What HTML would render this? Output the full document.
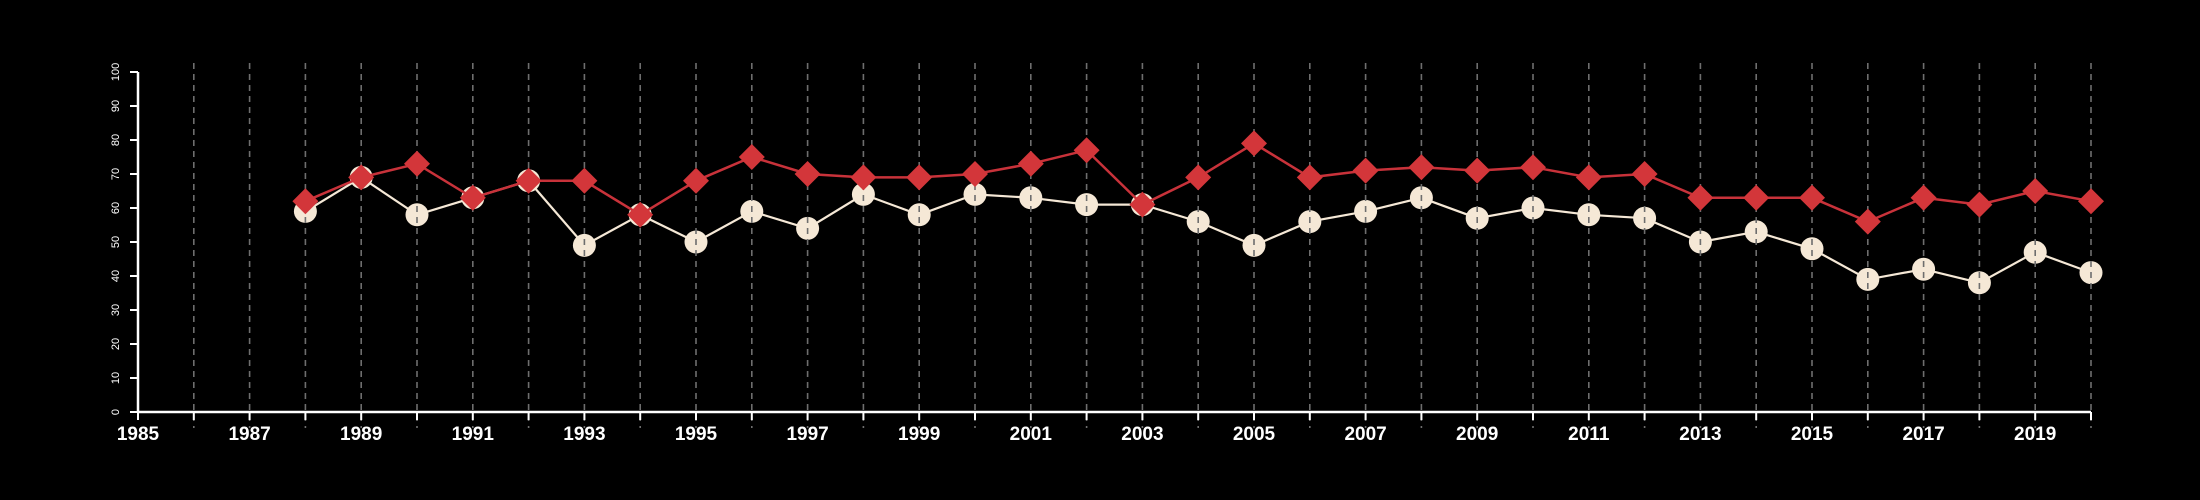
<!DOCTYPE html>
<html><head><meta charset="utf-8"><style>
html,body{margin:0;padding:0;background:#000;width:2200px;height:500px;overflow:hidden}
svg{display:block}
text{font-family:"Liberation Sans",sans-serif;fill:#fff}
</style></head><body>
<svg id="chart" width="2200" height="500" xmlns="http://www.w3.org/2000/svg"></svg>
<script>
const years=[1988,1989,1990,1991,1992,1993,1994,1995,1996,1997,1998,1999,2000,2001,2002,2003,2004,2005,2006,2007,2008,2009,2010,2011,2012,2013,2014,2015,2016,2017,2018,2019,2020];
const redSeries=[62,69,73,63,68,68,58,68,75,70,69,69,70,73,77,61,69,79,69,71,72,71,72,69,70,63,63,63,56,63,61,65,62];
const creamSeries=[59,69,58,63,68,49,58,50,59,54,64,58,64,63,61,61,56,49,56,59,63,57,60,58,57,50,53,48,39,42,38,47,41];
const yTicks=[0,10,20,30,40,50,60,70,80,90,100];
const xLabels=[1985,1987,1989,1991,1993,1995,1997,1999,2001,2003,2005,2007,2009,2011,2013,2015,2017,2019];
const xMin=1985,xMax=2020;

const svg=document.getElementById('chart');
const NS='http://www.w3.org/2000/svg';
const X=v=>138+(v-1985)*55.8;
const Y=v=>412-v*3.4;
function mk(tag,attrs,parent){const e=document.createElementNS(NS,tag);for(const k in attrs)e.setAttribute(k,attrs[k]);(parent||svg).appendChild(e);return e;}

// cream series
const gC=mk('g',{});


const cl=mk('polyline',{points:years.map((y,i)=>X(y)+','+Y(creamSeries[i])).join(' '),fill:'none',stroke:'#f5e8d6','stroke-width':2.2},gC);


years.forEach((y,i)=>{
  const c=mk('circle',{cx:X(y),cy:Y(creamSeries[i]),r:11.5,fill:'#f5e8d6'},gC);
  
  
});

// grid lines & ticks
for(let yr=1986;yr<=2020;yr++){
  const g=mk('line',{x1:X(yr),x2:X(yr),y1:63,y2:428,stroke:'#6e6e6e','stroke-width':1.6,'stroke-dasharray':'6,5'});
  
  
}
for(let yr=1985;yr<=2020;yr++){
  const t=mk('line',{x1:X(yr),x2:X(yr),y1:412,y2:420,stroke:'#fff','stroke-width':2});
  
  
}

// red series
const gR=mk('g',{});


const rl=mk('polyline',{points:years.map((y,i)=>X(y)+','+Y(redSeries[i])).join(' '),fill:'none',stroke:'#c8323a','stroke-width':2.5},gR);


years.forEach((y,i)=>{
  const cx=X(y),cy=Y(redSeries[i]),d=13;
  const p=mk('polygon',{points:`${cx},${cy-d} ${cx+d},${cy} ${cx},${cy+d} ${cx-d},${cy}`,fill:'#d3363a'},gR);
  
  
});

// axes
const xa=mk('line',{x1:X(xMin),x2:X(xMax),y1:412,y2:412,stroke:'#fff','stroke-width':2.5});


const ya=mk('line',{x1:138,x2:138,y1:Y(0),y2:Y(100),stroke:'#fff','stroke-width':2.5});


yTicks.forEach(v=>{
  const t=mk('line',{x1:130,x2:138,y1:Y(v),y2:Y(v),stroke:'#fff','stroke-width':2});
  
  
  const tx=mk('text',{x:0,y:0,transform:`translate(119,${Y(v)}) rotate(-90)`,'text-anchor':'middle','font-size':11});
  tx.textContent=v;
  
  
});
xLabels.forEach(v=>{
  const tx=mk('text',{x:X(v),y:440,'text-anchor':'middle','font-size':19,'font-weight':'bold'});
  tx.textContent=v;
  
  
});
</script>
</body></html>
